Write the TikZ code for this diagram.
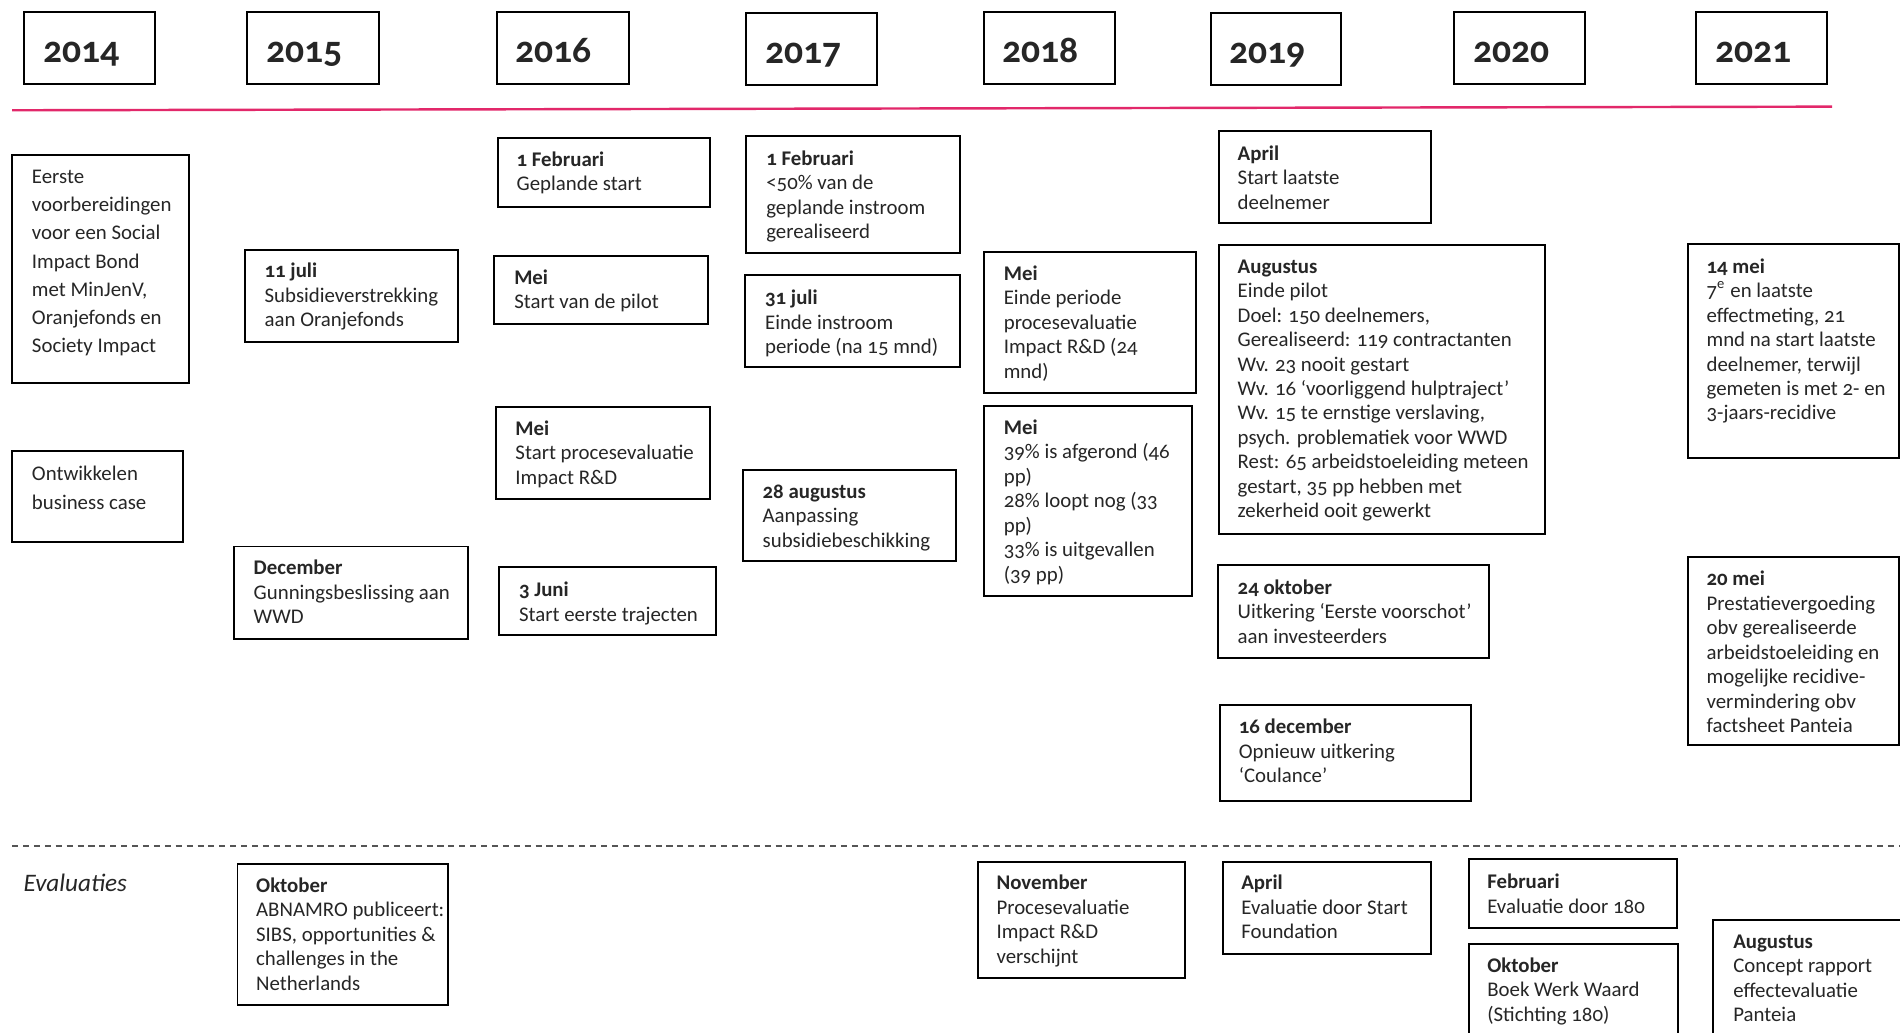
\documentclass[tikz,border=0pt]{standalone}
\usepackage{fontspec}
\setmainfont{Carlito}[Numbers=OldStyle]
\usetikzlibrary{fit}
\definecolor{ink}{HTML}{262626}
\definecolor{pinkline}{HTML}{E2286A}
\definecolor{dashgray}{HTML}{555555}
\newcommand\tstrut{\rule{0pt}{7pt}}
\tikzset{
  tlframe/.style={draw=black, line width=0.8pt, inner sep=0pt},
  tltext/.style={inner sep=0pt, align=left, text=ink, font=\fontsize{8.6}{10.1}\selectfont},
  yearframe/.style={draw=black, line width=0.8pt, inner sep=0pt},
  yeartext/.style={inner sep=0pt, text=ink, font=\fontsize{15.5}{18}\selectfont\bfseries},
}
% [opts]{name}{x1}{y1}{x2}{y2}{tx}{ty}{text}  (ty = baseline of first line)
\newcommand\tlbox[9][]{%
  \node[tlframe, fit={(#3,#4) (#5,#6)}] (#2) {};
  \node[tltext, anchor=north west, yshift=7pt, #1] (#2-t) at (#7,#8) {\tstrut#9};
}
\newcommand\yearbox[6]{%
  \node[yearframe, fit={(#2,#3) (#4,#5)}] (#1) {};
  \node[yeartext, anchor=base west] (#1-t) at ([shift={(16,42)}]#1.north west) {#6};
}
\begin{document}
\begin{tikzpicture}[x=0.5pt, y=-0.5pt]
\useasboundingbox (0,0) rectangle (1568,852);
\clip (0,0) rectangle (1568,852);
\fill[white] (0,0) rectangle (1568,852);

% year boxes
\yearbox{y2014}{20}{10}{128}{69}{2014}
\yearbox{y2015}{204}{10}{313}{69}{2015}
\yearbox{y2016}{410}{10}{519}{69}{2016}
\yearbox{y2017}{616}{11}{724}{70}{2017}
\yearbox{y2018}{812}{10}{920}{69}{2018}
\yearbox{y2019}{999}{11}{1107}{70}{2019}
\yearbox{y2020}{1200}{10}{1308}{69}{2020}
\yearbox{y2021}{1400}{10}{1508}{69}{2021}

% timeline and separator
\coordinate (tlA) at (10,91);
\coordinate (tlB) at (1512,88);
\draw[pinkline, line width=1pt] (tlA) -- (tlB);
\coordinate (sepA) at (10,698);
\coordinate (sepB) at (1568,698);
\draw[dashgray, line width=0.6pt, dash pattern=on 2.5pt off 2pt] (sepA) -- (sepB);

% 2014
\tlbox[font=\fontsize{8.6}{11.65}\selectfont]{eerste}{10}{128}{156}{316}{26}{151}{Eerste\\voorbereidingen\\voor een Social\\Impact Bond\\met MinJenV,\\Oranjefonds en\\Society Impact}
\tlbox[font=\fontsize{8.6}{12}\selectfont]{ontw}{10}{372}{151}{447}{26}{396}{Ontwikkelen\\business case}

% 2015
\tlbox{juli15}{202}{206}{378}{282}{218}{229}{\textbf{11 juli}\\Subsidieverstrekking\\aan Oranjefonds}
\tlbox{dec15}{193}{451}{386}{527}{209}{474}{\textbf{December}\\Gunningsbeslissing aan\\WWD}

% 2016
\tlbox{feb16}{411}{114}{586}{171}{426}{137}{\textbf{1 Februari}\\Geplande start}
\tlbox{mei16a}{408}{211}{584}{267}{424}{234}{\textbf{Mei}\\Start van de pilot}
\tlbox{mei16b}{409}{336}{586}{412}{425}{359}{\textbf{Mei}\\Start procesevaluatie\\Impact R\&D}
\tlbox{jun16}{412}{468}{591}{524}{428}{492}{\textbf{3 Juni}\\Start eerste trajecten}

% 2017
\tlbox{feb17}{616}{112}{792}{209}{632}{136}{\textbf{1 Februari}\\<50\% van de\\geplande instroom\\gerealiseerd}
\tlbox{jul17}{615}{227}{792}{303}{631}{251}{\textbf{31 juli}\\Einde instroom\\periode (na 15 mnd)}
\tlbox{aug17}{613}{388}{789}{463}{629}{411}{\textbf{28 augustus}\\Aanpassing\\subsidiebeschikking}

% 2018
\tlbox{mei18a}{812}{208}{987}{324}{828}{231}{\textbf{Mei}\\Einde periode\\procesevaluatie\\Impact R\&D (24\\mnd)}
\tlbox{mei18b}{812}{335}{984}{492}{828}{358}{\textbf{Mei}\\39\% is afgerond (46\\pp)\\28\% loopt nog (33\\pp)\\33\% is uitgevallen\\(39 pp)}

% 2019
\tlbox{apr19}{1006}{108}{1181}{184}{1021}{132}{\textbf{April}\\Start laatste\\deelnemer}
\tlbox{aug19}{1006}{202}{1275}{441}{1021}{225}{\textbf{Augustus}\\Einde pilot\\Doel: 150 deelnemers,\\Gerealiseerd: 119 contractanten\\Wv. 23 nooit gestart\\Wv. 16 ‘voorliggend hulptraject’\\Wv. 15 te ernstige verslaving,\\psych. problematiek voor WWD\\Rest: 65 arbeidstoeleiding meteen\\gestart, 35 pp hebben met\\zekerheid ooit gewerkt}
\tlbox{okt19}{1005}{466}{1229}{543}{1021}{490}{\textbf{24 oktober}\\Uitkering ‘Eerste voorschot’\\aan investeerders}
\tlbox{dec19}{1007}{582}{1214}{661}{1022}{605}{\textbf{16 december}\\Opnieuw uitkering\\‘Coulance’}

% 2021
\tlbox{mei21a}{1393}{201}{1567}{378}{1408}{225}{\textbf{14 mei}\\7\textsuperscript{e} en laatste\\effectmeting, 21\\mnd na start laatste\\deelnemer, terwijl\\gemeten is met 2- en\\3-jaars-recidive}
\tlbox{mei21b}{1393}{460}{1567}{615}{1408}{483}{\textbf{20 mei}\\Prestatievergoeding\\obv gerealiseerde\\arbeidstoeleiding en\\mogelijke recidive-\\vermindering obv\\factsheet Panteia}

% Evaluaties
\node[inner sep=0pt, anchor=base west, text=ink, font=\fontsize{10.4}{12}\selectfont\itshape] (evallabel) at (19,736) {Evaluaties};
\tlbox{ev15}{196}{713}{370}{829}{211}{736}{\textbf{Oktober}\\ABNAMRO publiceert:\\SIBS, opportunities \&\\challenges in the\\Netherlands}
\tlbox{ev18}{807}{711}{978}{807}{822}{734}{\textbf{November}\\Procesevaluatie\\Impact R\&D\\verschijnt}
\tlbox{ev19}{1009}{711}{1181}{787}{1024}{734}{\textbf{April}\\Evaluatie door Start\\Foundation}
\tlbox{ev20a}{1212}{709}{1384}{766}{1227}{733}{\textbf{Februari}\\Evaluatie door 180}
\tlbox{ev20b}{1212}{779}{1385}{870}{1227}{802}{\textbf{Oktober}\\Boek Werk Waard\\(Stichting 180)}
\tlbox{ev21}{1414}{759}{1580}{870}{1430}{782}{\textbf{Augustus}\\Concept rapport\\effectevaluatie\\Panteia}
\end{tikzpicture}
\end{document}
